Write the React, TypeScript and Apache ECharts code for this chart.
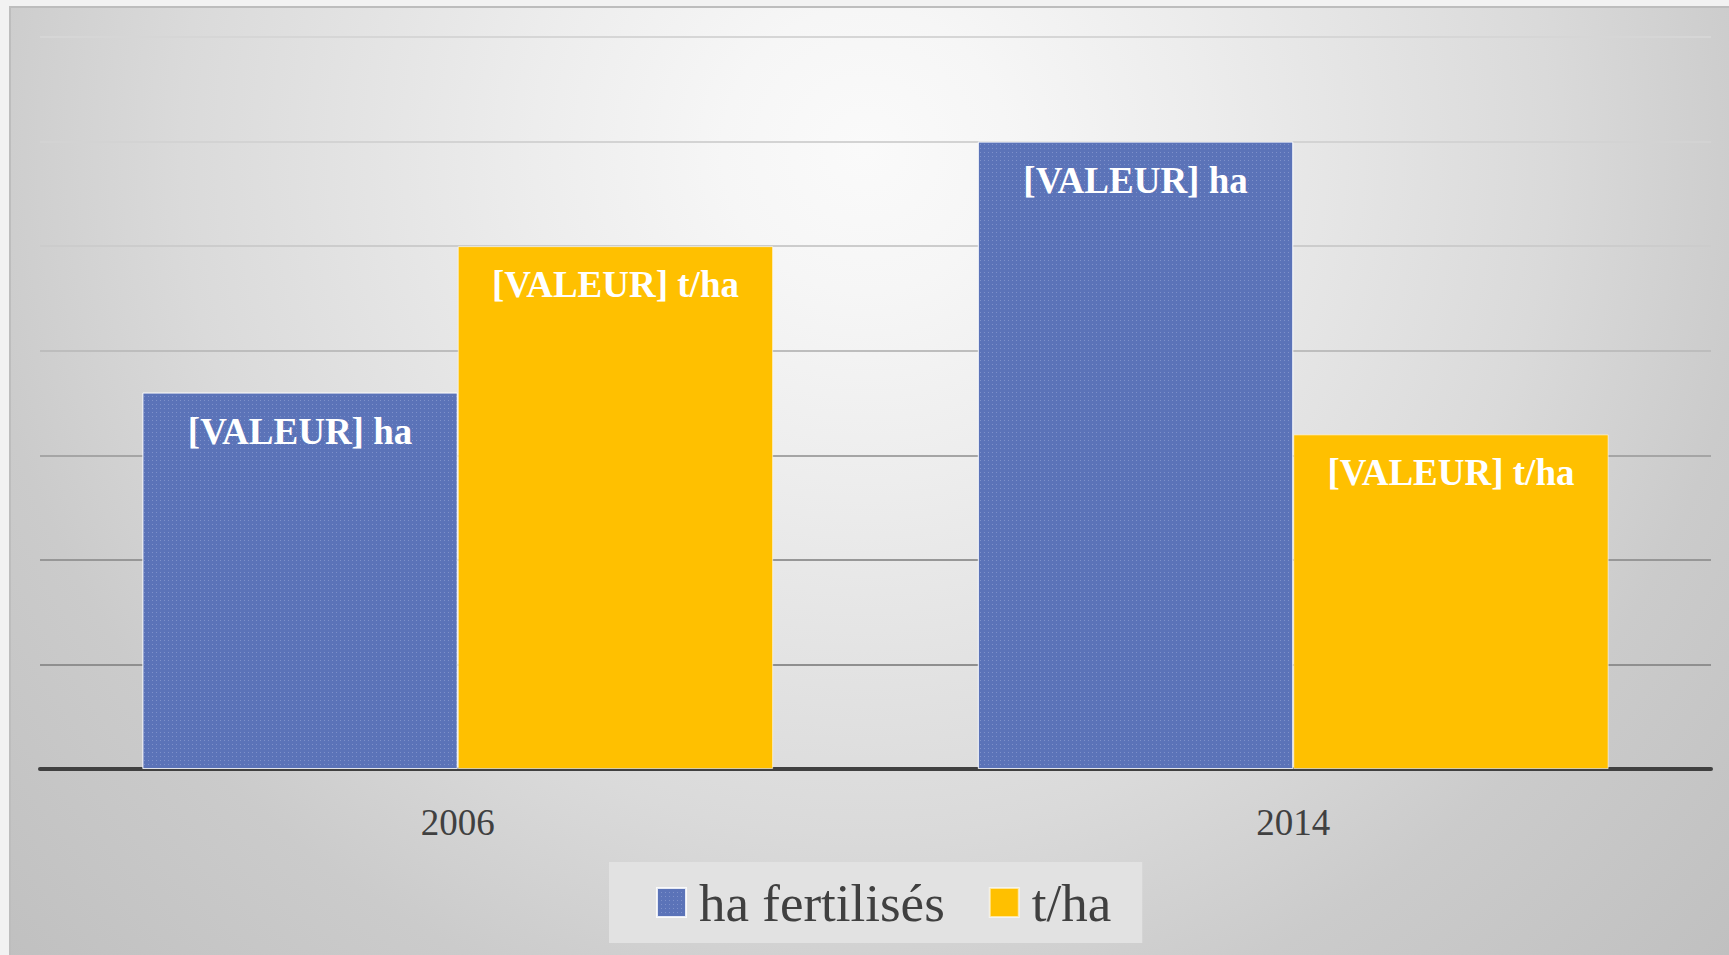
import React, { useEffect, useRef } from 'react';
import * as echarts from 'echarts';

const categories = ['2006', '2014'];
const seriesNames = ['ha fertilisés', 't/ha'];
const haValues = [3.6, 6.0];
const thaValues = [5.0, 3.2];
const labelTexts = ['[VALEUR] ha', '[VALEUR] t/ha'];
const yMin = 0;
const yMax = 7;
const yInterval = 1;
const gridLineColors = ['#404040', '#8f8f8f', '#979797', '#a5a5a5', '#bdbdbd', '#cccccc', '#d3d3d3', '#d6d6d6'];

const SERIF = '"Liberation Serif", "DejaVu Serif", serif';

export default function App() {
  const ref = useRef<HTMLDivElement>(null);
  useEffect(() => {
    if (!ref.current) return;
    const chart = echarts.init(ref.current, undefined, { renderer: 'svg' });
    const option: any = {
      animation: false,
      backgroundColor: '#f2f2f2',
      graphic: [
        {
          type: 'rect',
          z: -10,
          silent: true,
          shape: { x: 10, y: 7, width: 1730, height: 960 },
          style: {
            fill: {
              type: 'radial',
              x: 865,
              y: 150,
              r: 1180,
              global: true,
              colorStops: [
                { offset: 0, color: '#fafafa' },
                { offset: 0.12, color: '#f6f6f6' },
                { offset: 0.28, color: '#ededed' },
                { offset: 0.58, color: '#dadada' },
                { offset: 0.76, color: '#cbcbcb' },
                { offset: 1, color: '#c0c0c0' },
              ],
            },
            stroke: '#bdbdbd',
            lineWidth: 2,
          },
        },
      ],
      grid: { left: 40, right: 18, top: 37, bottom: 186, containLabel: false },
      legend: {
        data: seriesNames,
        left: 609,
        top: 862,
        padding: [14, 31, 14, 47],
        backgroundColor: '#e2e2e2',
        icon: 'rect',
        itemWidth: 29,
        itemHeight: 29,
        itemGap: 44,
        textStyle: {
          fontFamily: SERIF,
          fontSize: 53,
          color: '#404040',
          padding: [0, 0, 0, 8],
        },
      },
      xAxis: {
        type: 'category',
        data: categories,
        axisLine: { show: true, lineStyle: { color: '#404040', width: 4 } },
        axisTick: { show: false },
        axisLabel: {
          color: '#404040',
          fontFamily: SERIF,
          fontSize: 37,
          margin: 35,
        },
        splitLine: { show: false },
      },
      yAxis: {
        type: 'value',
        min: yMin,
        max: yMax,
        interval: yInterval,
        axisLabel: { show: false },
        axisLine: { show: false },
        axisTick: { show: false },
        splitLine: { show: true, lineStyle: { color: gridLineColors, width: 2 } },
      },
      series: [
        {
          name: seriesNames[0],
          type: 'bar',
          data: haValues,
          barGap: '0%',
          barCategoryGap: '24.5%',
          itemStyle: {
            color: '#5b73b8',
            borderColor: 'rgba(255,255,255,0.6)',
            borderWidth: 1,
            decal: {
              symbol: 'rect',
              symbolSize: 1,
              color: 'rgba(190,200,235,0.35)',
              dashArrayX: [1, 3],
              dashArrayY: [1, 3],
              rotation: 0,
            },
          },
          label: {
            show: true,
            position: 'insideTop',
            distance: 20,
            formatter: () => labelTexts[0],
            color: '#ffffff',
            fontFamily: SERIF,
            fontWeight: 'bold',
            fontSize: 37,
          },
        },
        {
          name: seriesNames[1],
          type: 'bar',
          data: thaValues,
          barGap: '0%',
          barCategoryGap: '24.5%',
          itemStyle: {
            color: '#ffc000',
            borderColor: 'rgba(255,255,255,0.6)',
            borderWidth: 1,
          },
          label: {
            show: true,
            position: 'insideTop',
            distance: 20,
            formatter: () => labelTexts[1],
            color: '#ffffff',
            fontFamily: SERIF,
            fontWeight: 'bold',
            fontSize: 37,
          },
        },
      ],
    };
    chart.setOption(option);
    return () => chart.dispose();
  }, []);
  return (
    <div
      ref={ref}
      style={{ position: 'fixed', left: 0, top: 0, width: 1729, height: 955 }}
    />
  );
}
